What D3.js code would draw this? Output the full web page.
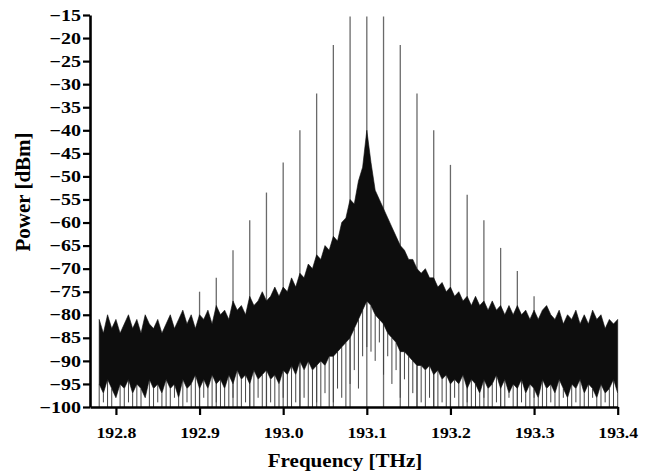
<!DOCTYPE html>
<html>
<head>
<meta charset="utf-8">
<script src="https://cdn.jsdelivr.net/npm/d3@7"></script>
<style>
  html, body { margin: 0; padding: 0; background: #fff; }
</style>
</head>
<body>
<div id="spectrum"></div>
<script>
// sampling grid of the trace [THz]
const freq = [
  192.780, 192.785, 192.790, 192.795, 192.800, 192.805, 192.810, 192.815, 192.820, 192.825, 192.830, 192.835, 192.840, 192.845, 192.850, 192.855, 192.860, 192.865, 192.870, 192.875,
  192.880, 192.885, 192.890, 192.895, 192.900, 192.905, 192.910, 192.915, 192.920, 192.925, 192.930, 192.935, 192.940, 192.945, 192.950, 192.955, 192.960, 192.965, 192.970, 192.975,
  192.980, 192.985, 192.990, 192.995, 193.000, 193.005, 193.010, 193.015, 193.020, 193.025, 193.030, 193.035, 193.040, 193.045, 193.050, 193.055, 193.060, 193.065, 193.070, 193.075,
  193.080, 193.085, 193.090, 193.095, 193.100, 193.105, 193.110, 193.115, 193.120, 193.125, 193.130, 193.135, 193.140, 193.145, 193.150, 193.155, 193.160, 193.165, 193.170, 193.175,
  193.180, 193.185, 193.190, 193.195, 193.200, 193.205, 193.210, 193.215, 193.220, 193.225, 193.230, 193.235, 193.240, 193.245, 193.250, 193.255, 193.260, 193.265, 193.270, 193.275,
  193.280, 193.285, 193.290, 193.295, 193.300, 193.305, 193.310, 193.315, 193.320, 193.325, 193.330, 193.335, 193.340, 193.345, 193.350, 193.355, 193.360, 193.365, 193.370, 193.375,
  193.380, 193.385, 193.390, 193.395, 193.400
];
// upper edge of the noise trace [dBm]
const noiseHi = [
  -81, -84, -80, -83, -81, -84, -82, -80, -83, -81, -84, -80, -82, -83, -81, -84, -82, -80, -83, -81,
  -79, -82, -80, -83, -80, -81, -79, -82, -78, -80, -79, -81, -77, -79, -78, -80, -76, -78, -77, -75,
  -77, -76, -74, -76, -74, -75, -72, -74, -71, -72, -69, -70, -67, -68, -65, -66, -63, -64, -60, -59,
  -55, -56, -51, -48, -40, -47, -53, -55, -57, -59, -61, -63, -65, -66, -68, -68, -70, -71, -70, -72,
  -72, -74, -73, -75, -74, -76, -75, -77, -76, -78, -76, -78, -77, -79, -77, -79, -78, -80, -78, -80,
  -78, -80, -79, -81, -79, -81, -79, -78, -80, -81, -79, -82, -80, -81, -79, -82, -80, -82, -79, -81,
  -80, -83, -81, -82, -81
];
// lower edge of the dense part of the trace [dBm]
const noiseLo = [
  -95, -97, -94, -96, -98, -95, -96, -94, -97, -95, -96, -98, -94, -96, -95, -97, -94, -96, -95, -98,
  -94, -96, -95, -93, -96, -94, -96, -93, -95, -94, -96, -93, -95, -92, -94, -93, -95, -92, -94, -93,
  -92, -94, -93, -95, -92, -93, -91, -93, -90, -92, -90, -92, -91, -90, -91, -89, -89, -88, -87, -86,
  -85, -83, -81, -79, -77, -78, -80, -81, -82, -84, -85, -86, -88, -88, -89, -90, -91, -91, -92, -91,
  -93, -92, -94, -93, -95, -94, -95, -93, -96, -94, -95, -97, -94, -96, -95, -93, -96, -94, -97, -95,
  -96, -94, -97, -95, -96, -98, -94, -96, -95, -97, -94, -96, -98, -95, -96, -94, -97, -95, -96, -98,
  -95, -97, -96, -94, -97
];
// deepest dips of the trace [dBm]
const noiseDip = [
  -100, -99, -100, -100, -98, -100, -100, -99, -100, -100, -100, -98, -100, -100, -99, -100, -100, -100, -98, -100,
  -100, -99, -100, -100, -100, -98, -100, -100, -99, -100, -100, -100, -98, -100, -100, -99, -100, -100, -98, -100,
  -100, -99, -100, -100, -98, -100, -100, -99, -100, -98, -100, -100, -99, -100, -97, -100, -99, -96, -98, -100,
  -95, -92, -96, -89, -87, -88, -90, -86, -93, -89, -95, -92, -98, -94, -100, -97, -100, -99, -100, -98,
  -100, -100, -99, -100, -100, -98, -100, -100, -99, -100, -100, -100, -98, -100, -100, -99, -100, -100, -98, -100,
  -100, -99, -100, -100, -98, -100, -100, -100, -99, -100, -100, -98, -100, -100, -99, -100, -100, -100, -98, -100,
  -100, -99, -100, -100, -100
];
// comb lines
const combFreq = [192.90, 192.92, 192.94, 192.96, 192.98, 193.00, 193.02, 193.04, 193.06, 193.08, 193.10,
                  193.12, 193.14, 193.16, 193.18, 193.20, 193.22, 193.24, 193.26, 193.28, 193.30];
const combPeak = [-75, -72, -66, -59.5, -53.5, -47, -40, -32, -21.5, -15.3, -15.3,
                  -15.3, -21.5, -32, -40, -47.5, -54, -59.5, -65.5, -70.5, -76];

const xTicks = [192.8, 192.9, 193.0, 193.1, 193.2, 193.3, 193.4];
const yTicks = [-100, -95, -90, -85, -80, -75, -70, -65, -60, -55, -50, -45, -40, -35, -30, -25, -20, -15];

(function() {
  const width = 652;
  const height = 472;
  const font = "'Liberation Serif', 'Times New Roman', serif";

  const svg = d3.select("#spectrum")
    .append("svg")
    .attr("width", width)
    .attr("height", height);

  const x = d3.scaleLinear().domain([192.769, 193.4]).range([90, 617.7]);
  const y = d3.scaleLinear().domain([-100, -15]).range([407, 15]);

  const trace = freq.map((f, i) => ({ f: f, hi: noiseHi[i], lo: noiseLo[i], dip: noiseDip[i] }));
  const comb = combFreq.map((f, i) => ({ f: f, p: combPeak[i] }));

  // comb lines sit behind the noise
  svg.append("g").selectAll("line")
    .data(comb)
    .join("line")
    .attr("x1", d => x(d.f)).attr("x2", d => x(d.f))
    .attr("y1", y(-100)).attr("y2", d => y(d.p))
    .attr("stroke", "#6a6a6a")
    .attr("stroke-width", 1.3);

  // dips below the dense part
  svg.append("g").selectAll("line")
    .data(trace)
    .join("line")
    .attr("x1", d => x(d.f)).attr("x2", d => x(d.f))
    .attr("y1", d => y(d.lo)).attr("y2", d => y(d.dip))
    .attr("stroke", "#454545")
    .attr("stroke-width", 1);

  // dense body of the trace
  const area = d3.area()
    .x(d => x(d.f))
    .y0(d => y(d.lo))
    .y1(d => y(d.hi));

  svg.append("path")
    .datum(trace)
    .attr("d", area)
    .attr("fill", "#0d0d0d")
    .attr("stroke", "#0d0d0d")
    .attr("stroke-width", 0.6);

  // axes
  const sy = 1.25, sx = 1.18;
  const yAxis = svg.append("g")
    .attr("transform", "translate(90,0)")
    .call(d3.axisLeft(y).tickValues(yTicks).tickSize(7).tickPadding(2).tickSizeOuter(0));
  yAxis.select(".domain").attr("stroke-width", 2.6);
  yAxis.selectAll(".tick line").attr("stroke-width", 2.2);
  yAxis.selectAll(".tick text")
    .attr("x", -9 / sy)
    .attr("transform", `scale(${sy},1)`)
    .style("font-family", font)
    .style("font-weight", "bold")
    .style("font-size", "16px")
    .attr("fill", "#000");

  const xAxis = svg.append("g")
    .attr("transform", "translate(0,407)")
    .call(d3.axisBottom(x).tickValues(xTicks).tickFormat(d => d.toFixed(1))
      .tickSize(8).tickPadding(12).tickSizeOuter(0));
  xAxis.select(".domain").attr("stroke-width", 2.6);
  xAxis.selectAll(".tick line").attr("stroke-width", 2.2);
  xAxis.selectAll(".tick text")
    .attr("transform", `scale(${sx},1)`)
    .style("font-family", font)
    .style("font-weight", "bold")
    .style("font-size", "15px")
    .attr("fill", "#000");

  // titles
  svg.append("text")
    .attr("transform", "translate(345,467) scale(1.17,1)")
    .attr("text-anchor", "middle")
    .style("font-family", font)
    .style("font-weight", "bold")
    .style("font-size", "18px")
    .text("Frequency [THz]");

  svg.append("text")
    .attr("transform", "translate(30,192) rotate(-90)")
    .attr("text-anchor", "middle")
    .style("font-family", font)
    .style("font-weight", "bold")
    .style("font-size", "21px")
    .text("Power [dBm]");
})();
</script>
</body>
</html>
